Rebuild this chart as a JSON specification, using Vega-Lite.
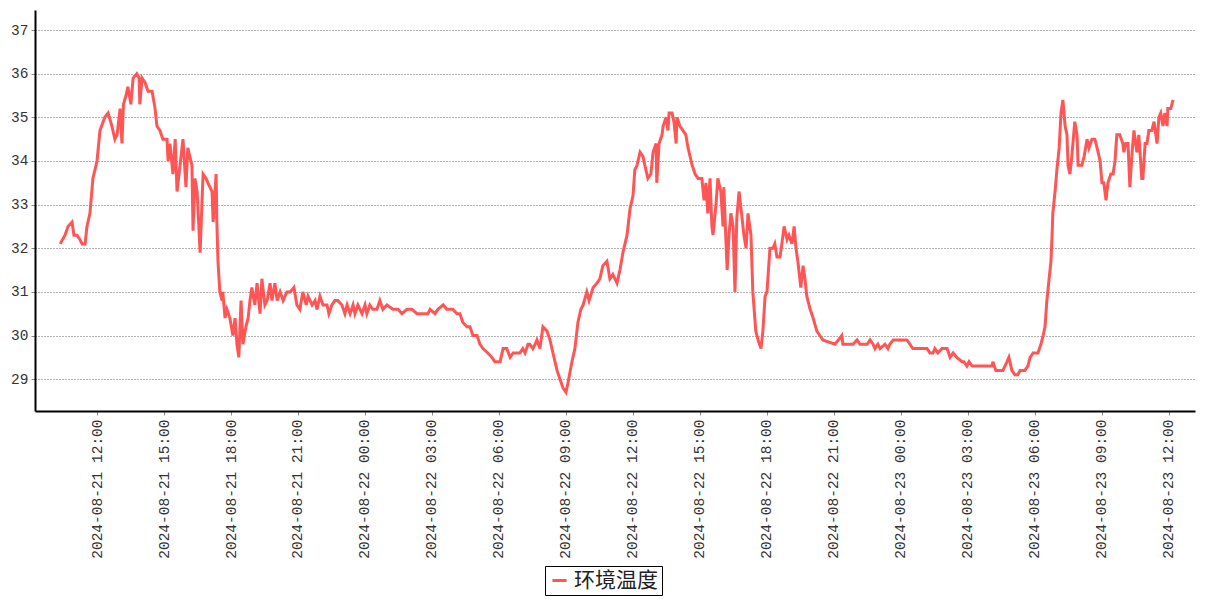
{
  "$schema": "https://vega.github.io/schema/vega-lite/v6.json",
  "autosize": {"type": "none"},
  "width": 1160,
  "height": 401,
  "padding": {"left": 35, "top": 10, "right": 12, "bottom": 189},
  "background": "white",
  "config": {"view": {"stroke": null}},
  "data": {"values": [
    {"t":"2024-08-21T10:21","v":32.1},{"t":"2024-08-21T10:34","v":32.3},{"t":"2024-08-21T10:42","v":32.5},{"t":"2024-08-21T10:53","v":32.6},{"t":"2024-08-21T10:58","v":32.3},{"t":"2024-08-21T11:06","v":32.3},{"t":"2024-08-21T11:14","v":32.2},{"t":"2024-08-21T11:20","v":32.1},{"t":"2024-08-21T11:28","v":32.1},{"t":"2024-08-21T11:33","v":32.5},{"t":"2024-08-21T11:41","v":32.8},{"t":"2024-08-21T11:49","v":33.6},{"t":"2024-08-21T12:00","v":34.0},{"t":"2024-08-21T12:08","v":34.7},{"t":"2024-08-21T12:21","v":35.0},{"t":"2024-08-21T12:30","v":35.1},{"t":"2024-08-21T12:40","v":34.8},{"t":"2024-08-21T12:48","v":34.5},{"t":"2024-08-21T12:54","v":34.6},{"t":"2024-08-21T13:02","v":35.2},{"t":"2024-08-21T13:07","v":34.4},{"t":"2024-08-21T13:11","v":35.3},{"t":"2024-08-21T13:18","v":35.5},{"t":"2024-08-21T13:23","v":35.7},{"t":"2024-08-21T13:31","v":35.3},{"t":"2024-08-21T13:37","v":35.9},{"t":"2024-08-21T13:47","v":36.0},{"t":"2024-08-21T13:53","v":35.9},{"t":"2024-08-21T13:55","v":35.3},{"t":"2024-08-21T14:01","v":35.9},{"t":"2024-08-21T14:09","v":35.8},{"t":"2024-08-21T14:17","v":35.6},{"t":"2024-08-21T14:28","v":35.6},{"t":"2024-08-21T14:36","v":35.2},{"t":"2024-08-21T14:41","v":34.8},{"t":"2024-08-21T14:49","v":34.7},{"t":"2024-08-21T14:57","v":34.5},{"t":"2024-08-21T15:08","v":34.5},{"t":"2024-08-21T15:11","v":34.0},{"t":"2024-08-21T15:16","v":34.4},{"t":"2024-08-21T15:24","v":33.7},{"t":"2024-08-21T15:30","v":34.5},{"t":"2024-08-21T15:35","v":33.3},{"t":"2024-08-21T15:43","v":33.9},{"t":"2024-08-21T15:51","v":34.5},{"t":"2024-08-21T15:59","v":33.4},{"t":"2024-08-21T16:04","v":34.3},{"t":"2024-08-21T16:15","v":33.9},{"t":"2024-08-21T16:18","v":32.4},{"t":"2024-08-21T16:23","v":33.6},{"t":"2024-08-21T16:29","v":33.3},{"t":"2024-08-21T16:37","v":31.9},{"t":"2024-08-21T16:45","v":33.7},{"t":"2024-08-21T16:53","v":33.6},{"t":"2024-08-21T16:58","v":33.5},{"t":"2024-08-21T17:09","v":33.3},{"t":"2024-08-21T17:12","v":32.6},{"t":"2024-08-21T17:20","v":33.7},{"t":"2024-08-21T17:22","v":32.6},{"t":"2024-08-21T17:25","v":31.7},{"t":"2024-08-21T17:30","v":31.0},{"t":"2024-08-21T17:36","v":30.8},{"t":"2024-08-21T17:38","v":31.0},{"t":"2024-08-21T17:44","v":30.4},{"t":"2024-08-21T17:49","v":30.6},{"t":"2024-08-21T17:57","v":30.4},{"t":"2024-08-21T18:05","v":30.0},{"t":"2024-08-21T18:11","v":30.4},{"t":"2024-08-21T18:16","v":29.8},{"t":"2024-08-21T18:21","v":29.5},{"t":"2024-08-21T18:27","v":30.8},{"t":"2024-08-21T18:32","v":29.8},{"t":"2024-08-21T18:40","v":30.2},{"t":"2024-08-21T18:46","v":30.4},{"t":"2024-08-21T18:51","v":30.8},{"t":"2024-08-21T18:56","v":31.1},{"t":"2024-08-21T19:04","v":30.7},{"t":"2024-08-21T19:10","v":31.2},{"t":"2024-08-21T19:18","v":30.5},{"t":"2024-08-21T19:23","v":31.3},{"t":"2024-08-21T19:31","v":30.7},{"t":"2024-08-21T19:37","v":30.8},{"t":"2024-08-21T19:45","v":31.2},{"t":"2024-08-21T19:50","v":30.8},{"t":"2024-08-21T19:58","v":31.2},{"t":"2024-08-21T20:04","v":30.8},{"t":"2024-08-21T20:12","v":31.0},{"t":"2024-08-21T20:20","v":30.8},{"t":"2024-08-21T20:30","v":31.0},{"t":"2024-08-21T20:39","v":31.0},{"t":"2024-08-21T20:49","v":31.1},{"t":"2024-08-21T20:57","v":30.7},{"t":"2024-08-21T21:05","v":30.6},{"t":"2024-08-21T21:13","v":31.0},{"t":"2024-08-21T21:22","v":30.7},{"t":"2024-08-21T21:27","v":30.9},{"t":"2024-08-21T21:38","v":30.7},{"t":"2024-08-21T21:46","v":30.8},{"t":"2024-08-21T21:51","v":30.6},{"t":"2024-08-21T21:59","v":30.9},{"t":"2024-08-21T22:07","v":30.7},{"t":"2024-08-21T22:18","v":30.7},{"t":"2024-08-21T22:23","v":30.5},{"t":"2024-08-21T22:31","v":30.7},{"t":"2024-08-21T22:39","v":30.8},{"t":"2024-08-21T22:47","v":30.8},{"t":"2024-08-21T22:58","v":30.7},{"t":"2024-08-21T23:06","v":30.5},{"t":"2024-08-21T23:12","v":30.7},{"t":"2024-08-21T23:20","v":30.5},{"t":"2024-08-21T23:28","v":30.7},{"t":"2024-08-21T23:33","v":30.5},{"t":"2024-08-21T23:41","v":30.7},{"t":"2024-08-21T23:52","v":30.5},
    {"t":"2024-08-22T00:00","v":30.7},{"t":"2024-08-22T00:05","v":30.5},{"t":"2024-08-22T00:13","v":30.7},{"t":"2024-08-22T00:21","v":30.6},{"t":"2024-08-22T00:32","v":30.6},{"t":"2024-08-22T00:40","v":30.8},{"t":"2024-08-22T00:48","v":30.6},{"t":"2024-08-22T00:59","v":30.7},{"t":"2024-08-22T01:15","v":30.6},{"t":"2024-08-22T01:29","v":30.6},{"t":"2024-08-22T01:39","v":30.5},{"t":"2024-08-22T01:53","v":30.6},{"t":"2024-08-22T02:06","v":30.6},{"t":"2024-08-22T02:20","v":30.5},{"t":"2024-08-22T02:36","v":30.5},{"t":"2024-08-22T02:49","v":30.5},{"t":"2024-08-22T02:55","v":30.6},{"t":"2024-08-22T03:08","v":30.5},{"t":"2024-08-22T03:16","v":30.6},{"t":"2024-08-22T03:30","v":30.7},{"t":"2024-08-22T03:40","v":30.6},{"t":"2024-08-22T03:56","v":30.6},{"t":"2024-08-22T04:07","v":30.5},{"t":"2024-08-22T04:15","v":30.5},{"t":"2024-08-22T04:23","v":30.3},{"t":"2024-08-22T04:34","v":30.2},{"t":"2024-08-22T04:42","v":30.2},{"t":"2024-08-22T04:50","v":30.0},{"t":"2024-08-22T05:01","v":30.0},{"t":"2024-08-22T05:09","v":29.8},{"t":"2024-08-22T05:17","v":29.7},{"t":"2024-08-22T05:30","v":29.6},{"t":"2024-08-22T05:41","v":29.5},{"t":"2024-08-22T05:49","v":29.4},{"t":"2024-08-22T06:03","v":29.4},{"t":"2024-08-22T06:11","v":29.7},{"t":"2024-08-22T06:21","v":29.7},{"t":"2024-08-22T06:30","v":29.5},{"t":"2024-08-22T06:38","v":29.6},{"t":"2024-08-22T06:48","v":29.6},{"t":"2024-08-22T06:56","v":29.6},{"t":"2024-08-22T07:04","v":29.7},{"t":"2024-08-22T07:10","v":29.6},{"t":"2024-08-22T07:18","v":29.8},{"t":"2024-08-22T07:23","v":29.8},{"t":"2024-08-22T07:31","v":29.7},{"t":"2024-08-22T07:37","v":29.8},{"t":"2024-08-22T07:42","v":29.9},{"t":"2024-08-22T07:50","v":29.7},{"t":"2024-08-22T07:58","v":30.2},{"t":"2024-08-22T08:09","v":30.1},{"t":"2024-08-22T08:17","v":29.9},{"t":"2024-08-22T08:25","v":29.6},{"t":"2024-08-22T08:36","v":29.2},{"t":"2024-08-22T08:44","v":29.0},{"t":"2024-08-22T08:52","v":28.8},{"t":"2024-08-22T09:00","v":28.7},{"t":"2024-08-22T09:05","v":28.9},{"t":"2024-08-22T09:16","v":29.4},{"t":"2024-08-22T09:24","v":29.7},{"t":"2024-08-22T09:32","v":30.3},{"t":"2024-08-22T09:40","v":30.6},{"t":"2024-08-22T09:46","v":30.7},{"t":"2024-08-22T09:56","v":31.0},{"t":"2024-08-22T10:02","v":30.8},{"t":"2024-08-22T10:13","v":31.1},{"t":"2024-08-22T10:23","v":31.2},{"t":"2024-08-22T10:31","v":31.3},{"t":"2024-08-22T10:39","v":31.6},{"t":"2024-08-22T10:50","v":31.7},{"t":"2024-08-22T10:58","v":31.3},{"t":"2024-08-22T11:06","v":31.4},{"t":"2024-08-22T11:17","v":31.2},{"t":"2024-08-22T11:25","v":31.5},{"t":"2024-08-22T11:33","v":31.9},{"t":"2024-08-22T11:44","v":32.3},{"t":"2024-08-22T11:52","v":32.9},{"t":"2024-08-22T12:00","v":33.2},{"t":"2024-08-22T12:05","v":33.8},{"t":"2024-08-22T12:11","v":33.9},{"t":"2024-08-22T12:19","v":34.2},{"t":"2024-08-22T12:27","v":34.1},{"t":"2024-08-22T12:32","v":33.9},{"t":"2024-08-22T12:40","v":33.6},{"t":"2024-08-22T12:48","v":33.7},{"t":"2024-08-22T12:54","v":34.2},{"t":"2024-08-22T13:02","v":34.4},{"t":"2024-08-22T13:04","v":33.5},{"t":"2024-08-22T13:10","v":34.4},{"t":"2024-08-22T13:18","v":34.6},{"t":"2024-08-22T13:21","v":34.8},{"t":"2024-08-22T13:29","v":35.0},{"t":"2024-08-22T13:34","v":34.7},{"t":"2024-08-22T13:37","v":35.1},{"t":"2024-08-22T13:45","v":35.1},{"t":"2024-08-22T13:50","v":34.9},{"t":"2024-08-22T13:56","v":34.4},{"t":"2024-08-22T13:58","v":35.0},{"t":"2024-08-22T14:06","v":34.8},{"t":"2024-08-22T14:14","v":34.7},{"t":"2024-08-22T14:22","v":34.6},{"t":"2024-08-22T14:28","v":34.3},{"t":"2024-08-22T14:39","v":33.9},{"t":"2024-08-22T14:47","v":33.7},{"t":"2024-08-22T14:55","v":33.6},{"t":"2024-08-22T15:05","v":33.6},{"t":"2024-08-22T15:11","v":33.1},{"t":"2024-08-22T15:16","v":33.5},{"t":"2024-08-22T15:21","v":32.8},{"t":"2024-08-22T15:27","v":33.6},{"t":"2024-08-22T15:32","v":32.5},{"t":"2024-08-22T15:35","v":32.3},{"t":"2024-08-22T15:43","v":33.0},{"t":"2024-08-22T15:48","v":33.6},{"t":"2024-08-22T15:56","v":33.3},{"t":"2024-08-22T16:02","v":32.5},{"t":"2024-08-22T16:04","v":33.4},{"t":"2024-08-22T16:13","v":31.5},{"t":"2024-08-22T16:18","v":32.3},{"t":"2024-08-22T16:23","v":32.8},{"t":"2024-08-22T16:29","v":32.5},{"t":"2024-08-22T16:34","v":31.0},{"t":"2024-08-22T16:39","v":32.7},{"t":"2024-08-22T16:45","v":33.3},{"t":"2024-08-22T16:53","v":32.7},{"t":"2024-08-22T16:58","v":32.3},{"t":"2024-08-22T17:04","v":32.0},{"t":"2024-08-22T17:09","v":32.8},{"t":"2024-08-22T17:17","v":32.3},{"t":"2024-08-22T17:22","v":31.0},{"t":"2024-08-22T17:30","v":30.1},{"t":"2024-08-22T17:36","v":29.9},{"t":"2024-08-22T17:44","v":29.7},{"t":"2024-08-22T17:49","v":30.1},{"t":"2024-08-22T17:55","v":30.9},{"t":"2024-08-22T18:00","v":31.0},{"t":"2024-08-22T18:08","v":32.0},{"t":"2024-08-22T18:16","v":32.0},{"t":"2024-08-22T18:21","v":32.1},{"t":"2024-08-22T18:27","v":31.8},{"t":"2024-08-22T18:35","v":31.8},{"t":"2024-08-22T18:40","v":32.1},{"t":"2024-08-22T18:46","v":32.5},{"t":"2024-08-22T18:54","v":32.2},{"t":"2024-08-22T18:59","v":32.3},{"t":"2024-08-22T19:07","v":32.1},{"t":"2024-08-22T19:13","v":32.5},{"t":"2024-08-22T19:18","v":32.0},{"t":"2024-08-22T19:23","v":31.7},{"t":"2024-08-22T19:31","v":31.1},{"t":"2024-08-22T19:37","v":31.6},{"t":"2024-08-22T19:42","v":31.3},{"t":"2024-08-22T19:47","v":30.9},{"t":"2024-08-22T19:56","v":30.6},{"t":"2024-08-22T20:04","v":30.4},{"t":"2024-08-22T20:14","v":30.1},{"t":"2024-08-22T20:22","v":30.0},{"t":"2024-08-22T20:30","v":29.9},{"t":"2024-08-22T21:03","v":29.8},{"t":"2024-08-22T21:21","v":30.0},{"t":"2024-08-22T21:24","v":29.8},{"t":"2024-08-22T21:51","v":29.8},{"t":"2024-08-22T22:02","v":29.9},{"t":"2024-08-22T22:10","v":29.8},{"t":"2024-08-22T22:29","v":29.8},{"t":"2024-08-22T22:37","v":29.9},{"t":"2024-08-22T22:45","v":29.8},{"t":"2024-08-22T22:50","v":29.7},{"t":"2024-08-22T22:58","v":29.8},{"t":"2024-08-22T23:04","v":29.7},{"t":"2024-08-22T23:17","v":29.8},{"t":"2024-08-22T23:25","v":29.7},{"t":"2024-08-22T23:30","v":29.8},{"t":"2024-08-22T23:39","v":29.9},
    {"t":"2024-08-23T00:16","v":29.9},{"t":"2024-08-23T00:24","v":29.8},{"t":"2024-08-23T00:32","v":29.7},{"t":"2024-08-23T01:10","v":29.7},{"t":"2024-08-23T01:18","v":29.6},{"t":"2024-08-23T01:26","v":29.6},{"t":"2024-08-23T01:31","v":29.7},{"t":"2024-08-23T01:39","v":29.6},{"t":"2024-08-23T01:50","v":29.7},{"t":"2024-08-23T02:04","v":29.7},{"t":"2024-08-23T02:12","v":29.5},{"t":"2024-08-23T02:20","v":29.6},{"t":"2024-08-23T02:30","v":29.5},{"t":"2024-08-23T02:44","v":29.4},{"t":"2024-08-23T02:49","v":29.4},{"t":"2024-08-23T02:57","v":29.3},{"t":"2024-08-23T03:03","v":29.4},{"t":"2024-08-23T03:11","v":29.3},{"t":"2024-08-23T03:51","v":29.3},{"t":"2024-08-23T04:05","v":29.3},{"t":"2024-08-23T04:07","v":29.4},{"t":"2024-08-23T04:15","v":29.2},{"t":"2024-08-23T04:34","v":29.2},{"t":"2024-08-23T04:45","v":29.4},{"t":"2024-08-23T04:50","v":29.5},{"t":"2024-08-23T04:58","v":29.2},{"t":"2024-08-23T05:06","v":29.1},{"t":"2024-08-23T05:14","v":29.1},{"t":"2024-08-23T05:20","v":29.2},{"t":"2024-08-23T05:33","v":29.2},{"t":"2024-08-23T05:41","v":29.3},{"t":"2024-08-23T05:47","v":29.5},{"t":"2024-08-23T05:55","v":29.6},{"t":"2024-08-23T06:08","v":29.6},{"t":"2024-08-23T06:16","v":29.8},{"t":"2024-08-23T06:22","v":30.0},{"t":"2024-08-23T06:27","v":30.2},{"t":"2024-08-23T06:32","v":30.8},{"t":"2024-08-23T06:38","v":31.3},{"t":"2024-08-23T06:43","v":31.7},{"t":"2024-08-23T06:46","v":32.3},{"t":"2024-08-23T06:48","v":32.8},{"t":"2024-08-23T06:54","v":33.3},{"t":"2024-08-23T06:59","v":33.8},{"t":"2024-08-23T07:05","v":34.3},{"t":"2024-08-23T07:10","v":35.1},{"t":"2024-08-23T07:15","v":35.4},{"t":"2024-08-23T07:21","v":34.8},{"t":"2024-08-23T07:26","v":34.6},{"t":"2024-08-23T07:29","v":33.9},{"t":"2024-08-23T07:34","v":33.7},{"t":"2024-08-23T07:39","v":34.1},{"t":"2024-08-23T07:42","v":34.4},{"t":"2024-08-23T07:47","v":34.9},{"t":"2024-08-23T07:53","v":34.6},{"t":"2024-08-23T07:56","v":33.9},{"t":"2024-08-23T08:06","v":33.9},{"t":"2024-08-23T08:12","v":34.1},{"t":"2024-08-23T08:20","v":34.5},{"t":"2024-08-23T08:25","v":34.3},{"t":"2024-08-23T08:33","v":34.5},{"t":"2024-08-23T08:41","v":34.5},{"t":"2024-08-23T08:47","v":34.3},{"t":"2024-08-23T08:55","v":34.0},{"t":"2024-08-23T09:00","v":33.5},{"t":"2024-08-23T09:05","v":33.5},{"t":"2024-08-23T09:11","v":33.1},{"t":"2024-08-23T09:16","v":33.5},{"t":"2024-08-23T09:24","v":33.7},{"t":"2024-08-23T09:30","v":33.7},{"t":"2024-08-23T09:35","v":34.0},{"t":"2024-08-23T09:40","v":34.6},{"t":"2024-08-23T09:48","v":34.6},{"t":"2024-08-23T09:56","v":34.4},{"t":"2024-08-23T09:59","v":34.2},{"t":"2024-08-23T10:04","v":34.4},{"t":"2024-08-23T10:10","v":34.4},{"t":"2024-08-23T10:15","v":33.4},{"t":"2024-08-23T10:21","v":34.2},{"t":"2024-08-23T10:26","v":34.7},{"t":"2024-08-23T10:34","v":34.2},{"t":"2024-08-23T10:39","v":34.6},{"t":"2024-08-23T10:47","v":33.6},{"t":"2024-08-23T10:50","v":33.6},{"t":"2024-08-23T10:56","v":34.4},{"t":"2024-08-23T11:01","v":34.4},{"t":"2024-08-23T11:06","v":34.7},{"t":"2024-08-23T11:14","v":34.7},{"t":"2024-08-23T11:20","v":34.9},{"t":"2024-08-23T11:28","v":34.4},{"t":"2024-08-23T11:33","v":35.0},{"t":"2024-08-23T11:38","v":35.1},{"t":"2024-08-23T11:44","v":34.8},{"t":"2024-08-23T11:49","v":35.1},{"t":"2024-08-23T11:55","v":34.8},{"t":"2024-08-23T11:57","v":35.2},{"t":"2024-08-23T12:05","v":35.2},{"t":"2024-08-23T12:11","v":35.4}
  ]},
  "mark": {"type": "line", "strokeWidth": 3, "interpolate": "linear"},
  "encoding": {
    "x": {
      "field": "t", "type": "temporal", "title": null,
      "scale": {"domain": [
        {"year": 2024, "month": 8, "date": 21, "hours": 9, "minutes": 13, "seconds": 24},
        {"year": 2024, "month": 8, "date": 23, "hours": 13, "minutes": 10}
      ]},
      "axis": {
        "values": [
          {"year": 2024, "month": 8, "date": 21, "hours": 12},
          {"year": 2024, "month": 8, "date": 21, "hours": 15},
          {"year": 2024, "month": 8, "date": 21, "hours": 18},
          {"year": 2024, "month": 8, "date": 21, "hours": 21},
          {"year": 2024, "month": 8, "date": 22, "hours": 0},
          {"year": 2024, "month": 8, "date": 22, "hours": 3},
          {"year": 2024, "month": 8, "date": 22, "hours": 6},
          {"year": 2024, "month": 8, "date": 22, "hours": 9},
          {"year": 2024, "month": 8, "date": 22, "hours": 12},
          {"year": 2024, "month": 8, "date": 22, "hours": 15},
          {"year": 2024, "month": 8, "date": 22, "hours": 18},
          {"year": 2024, "month": 8, "date": 22, "hours": 21},
          {"year": 2024, "month": 8, "date": 23, "hours": 0},
          {"year": 2024, "month": 8, "date": 23, "hours": 3},
          {"year": 2024, "month": 8, "date": 23, "hours": 6},
          {"year": 2024, "month": 8, "date": 23, "hours": 9},
          {"year": 2024, "month": 8, "date": 23, "hours": 12}
        ],
        "format": "%Y-%m-%d %H:%M",
        "labelAngle": 270,
        "labelAlign": "right",
        "labelBaseline": "middle",
        "labelFont": "Liberation Mono",
        "labelFontSize": 14.5,
        "labelColor": "#333333",
        "labelPadding": 4,
        "labelOverlap": false,
        "labelBound": false,
        "labelFlush": false,
        "tickSize": 4,
        "tickColor": "#888888",
        "domainColor": "#000000",
        "domainWidth": 2,
        "grid": false
      }
    },
    "y": {
      "field": "v", "type": "quantitative", "title": null,
      "scale": {"domain": [28.27, 37.46], "nice": false, "zero": false},
      "axis": {
        "values": [29, 30, 31, 32, 33, 34, 35, 36, 37],
        "labelFont": "Liberation Mono",
        "labelFontSize": 14.5,
        "labelColor": "#333333",
        "labelPadding": 3,
        "tickSize": 4,
        "tickColor": "#888888",
        "domainColor": "#000000",
        "domainWidth": 2,
        "grid": true,
        "gridColor": "#666666",
        "gridDash": [1, 2],
        "gridWidth": 1
      }
    },
    "color": {
      "datum": "环境温度",
      "type": "nominal",
      "scale": {"domain": ["环境温度"], "range": ["#FF5555"]},
      "legend": {
        "orient": "none",
        "legendX": 510,
        "legendY": 556,
        "title": null,
        "strokeColor": "#000000",
        "padding": 4,
        "symbolType": "stroke",
        "symbolStrokeWidth": 3,
        "symbolSize": 200,
        "labelFont": "Noto Sans CJK SC",
        "labelFontSize": 21,
        "labelColor": "#222222",
        "labelOffset": 4
      }
    }
  }
}
